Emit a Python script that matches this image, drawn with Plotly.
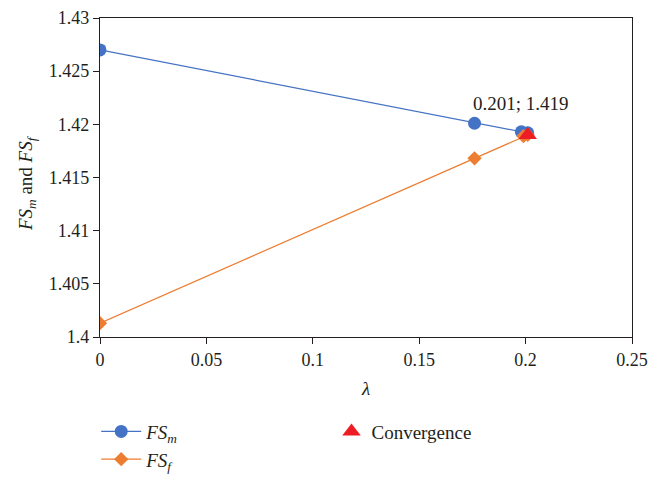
import plotly.graph_objects as go

lam_m = [0, 0.176, 0.198, 0.201]
fs_m = [1.427, 1.4201, 1.4193, 1.4192]
lam_f = [0, 0.176, 0.199, 0.201]
fs_f = [1.4013, 1.4168, 1.4189, 1.4190]
conv_x = [0.201]
conv_y = [1.419]
conv_label = "0.201; 1.419"
y_title = "<i>FS</i><sub><i>m</i></sub> and <i>FS</i><sub><i>f</i></sub>"

font = "Liberation Serif"
txt = "#231f20"

fig = go.Figure()
fig.add_trace(go.Scatter(x=lam_m, y=fs_m, mode="lines+markers",
                         name="<i>FS</i><sub><i>m</i></sub>",
                         line=dict(color="#4472C4", width=1.2),
                         marker=dict(symbol="circle", size=13, color="#4472C4"),
                         legend="legend"))
fig.add_trace(go.Scatter(x=lam_f, y=fs_f, mode="lines+markers",
                         name="<i>FS</i><sub><i>f</i></sub>",
                         line=dict(color="#ED7D31", width=1.2),
                         marker=dict(symbol="diamond", size=11, color="#ED7D31"),
                         legend="legend"))
fig.add_trace(go.Scatter(x=conv_x, y=conv_y, mode="markers",
                         name="Convergence",
                         marker=dict(symbol="triangle-up", size=16, color="#EE1C25"),
                         legend="legend2"))

fig.add_annotation(x=conv_x[0], y=conv_y[0], text=conv_label, showarrow=False,
                   xanchor="center", yanchor="bottom", xshift=-7, yshift=19,
                   font=dict(family=font, size=19, color=txt))

fig.add_annotation(x=-0.137, y=0.483, xref="paper", yref="paper", text=y_title,
                   textangle=-90, showarrow=False, xanchor="center", yanchor="middle",
                   font=dict(family=font, size=19, color=txt))

axis_common = dict(showline=True, linecolor=txt, linewidth=1.2, mirror=True,
                   ticks="outside", tickcolor=txt, ticklen=6, showgrid=False,
                   zeroline=False, automargin=True,
                   tickfont=dict(family=font, size=18, color=txt))

fig.update_xaxes(range=[0, 0.25], tickvals=[0, 0.05, 0.1, 0.15, 0.2, 0.25],
                 ticktext=["0", "0.05", "0.1", "0.15", "0.2", "0.25"],
                 title=dict(text="<i>λ</i>", font=dict(family=font, size=19, color=txt), standoff=12),
                 **axis_common)
fig.update_yaxes(range=[1.4, 1.43], tickvals=[1.4, 1.405, 1.41, 1.415, 1.42, 1.425, 1.43],
                 ticktext=["1.4", "1.405", "1.41", "1.415", "1.42", "1.425", "1.43"],
                 **axis_common)

fig.update_layout(
    width=650, height=477,
    margin=dict(l=100, r=18, t=18, b=140, autoexpand=False),
    plot_bgcolor="white", paper_bgcolor="white",
    font=dict(family=font, color=txt),
    legend=dict(x=0.148, y=0.135, xref="container", yref="container",
                xanchor="left", yanchor="top",
                font=dict(family=font, size=19, color=txt),
                bgcolor="rgba(0,0,0,0)", tracegroupgap=0, itemwidth=40),
    legend2=dict(x=0.51, y=0.135, xref="container", yref="container",
                 xanchor="left", yanchor="top",
                 font=dict(family=font, size=19, color=txt),
                 bgcolor="rgba(0,0,0,0)", itemwidth=30),
)

fig.write_html("out.html")
